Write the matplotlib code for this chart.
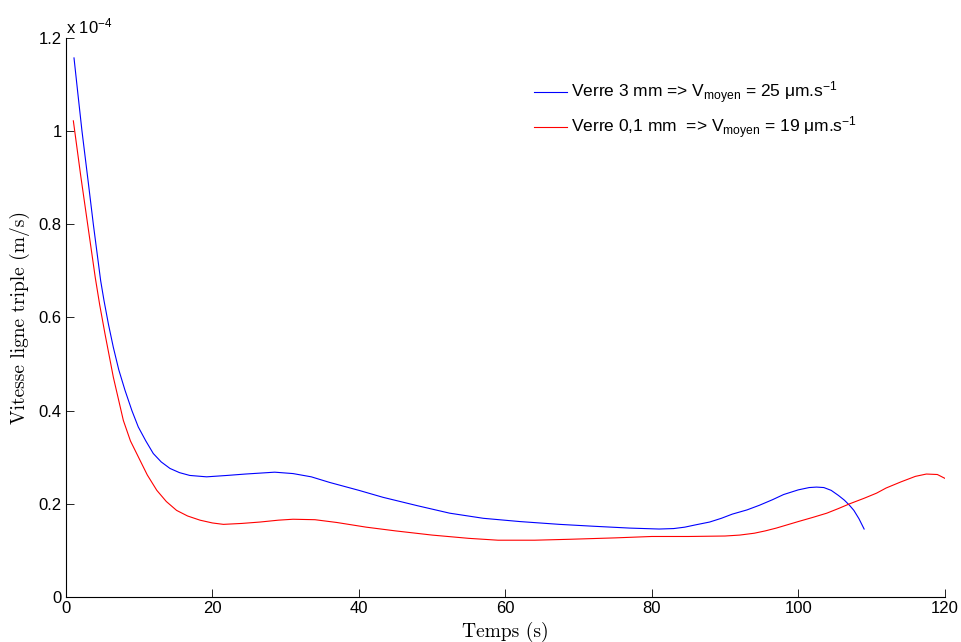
import matplotlib
matplotlib.use('Agg')
import matplotlib.pyplot as plt
from matplotlib.ticker import FuncFormatter

# vitesse de la ligne triple, en unites de 1e-4 m/s
t_verre3 = [1.09, 1.6, 2.18, 3.0, 3.73, 4.73, 5.19, 5.8, 6.46, 7.2, 8.05, 9.0, 9.87,
            10.9, 11.92, 13, 14.2, 15.5, 16.9, 19.2, 22, 24.5, 26.5, 28.5, 31, 33.5,
            36, 40, 43.3, 48, 52.4, 57, 62, 67.4, 72, 77, 81, 83, 84.5, 86, 87.9,
            89.5, 91, 93, 94.7, 96.5, 98, 100, 101.5, 102.5, 103.5, 104.5, 105.5,
            106.3, 107, 107.6, 108.3, 109]
v_verre3 = [1.157, 1.083, 1.0, 0.895, 0.8, 0.679, 0.636, 0.585, 0.536, 0.488, 0.444,
            0.40, 0.365, 0.335, 0.308, 0.29, 0.276, 0.267, 0.261, 0.258, 0.261,
            0.264, 0.266, 0.268, 0.265, 0.258, 0.246, 0.229, 0.214, 0.196, 0.180,
            0.169, 0.162, 0.156, 0.152, 0.148, 0.146, 0.147, 0.150, 0.155, 0.161,
            0.169, 0.178, 0.187, 0.197, 0.209, 0.220, 0.230, 0.235, 0.236, 0.235,
            0.229, 0.218, 0.208, 0.197, 0.186, 0.168, 0.146]

t_verre01 = [1, 2, 3, 4, 4.6, 5.32, 6.46, 7.83, 8.8, 9.87, 11.1, 12.4, 13.7, 15.1,
             16.6, 18.3, 20, 21.5, 24, 26.5, 29, 31, 34, 37, 41, 45, 50, 55, 59, 64,
             68.8, 75, 80, 85, 90, 92, 94, 95.5, 97, 98.5, 100, 102, 103.9, 105.5,
             107, 109, 110.7, 112, 114, 116, 117.5, 119, 120]
v_verre01 = [1.022, 0.905, 0.795, 0.685, 0.627, 0.565, 0.472, 0.379, 0.335, 0.301,
             0.262, 0.229, 0.205, 0.186, 0.174, 0.165, 0.159, 0.156, 0.158, 0.161,
             0.165, 0.167, 0.166, 0.160, 0.150, 0.142, 0.133, 0.126, 0.122, 0.122,
             0.124, 0.127, 0.130, 0.130, 0.131, 0.133, 0.137, 0.142, 0.148, 0.155,
             0.162, 0.171, 0.180, 0.190, 0.200, 0.212, 0.223, 0.234, 0.247, 0.259,
             0.264, 0.263, 0.255]

lab_verre3 = u'Verre 3 mm => V$_{\\mathrm{moyen}}$ = 25 \u03bcm.s$^{-1}$'
lab_verre01 = u'Verre 0,1 mm  => V$_{\\mathrm{moyen}}$ = 19 \u03bcm.s$^{-1}$'

plt.rcParams['font.family'] = 'Liberation Sans'
plt.rcParams['mathtext.fontset'] = 'custom'
plt.rcParams['mathtext.rm'] = 'Liberation Sans'
plt.rcParams['mathtext.it'] = 'Liberation Sans:italic'

fig = plt.figure(figsize=(9.61, 6.42), dpi=100)
ax = fig.add_axes([0.0687, 0.070, 0.9143, 0.871])

ax.plot(t_verre3, v_verre3, color='#0000ff', lw=0.8, label=lab_verre3)
ax.plot(t_verre01, v_verre01, color='#ff0000', lw=0.8, label=lab_verre01)

ax.set_xlim(0, 120)
ax.set_ylim(0, 1.2)
ax.set_xticks(range(0, 121, 20))
ax.set_yticks([0, 0.2, 0.4, 0.6, 0.8, 1.0, 1.2])
ax.yaxis.set_major_formatter(FuncFormatter(lambda v, p: '%g' % v))
ax.spines['top'].set_visible(False)
ax.spines['right'].set_visible(False)
for s in ['left', 'bottom']:
    ax.spines[s].set_linewidth(0.8)
ax.tick_params(direction='in', length=6, width=0.6, labelsize=12, pad=3)

ax.set_xlabel('Temps (s)', fontfamily='cmr10', fontsize=14, labelpad=4)
ax.set_ylabel('Vitesse ligne triple (m/s)', fontfamily='cmr10', fontsize=14, labelpad=6)

fig.text(0.069, 0.944, 'x 10$^{-4}$', fontsize=12, ha='left', va='bottom')

leg = ax.legend(loc='upper left', bbox_to_anchor=(0.556, 0.876),
                bbox_transform=fig.transFigure, frameon=False, fontsize=12.5,
                handlelength=1.9, handletextpad=0.2, labelspacing=0.5,
                borderpad=0, borderaxespad=0)

fig.savefig('out.png', dpi=100)
